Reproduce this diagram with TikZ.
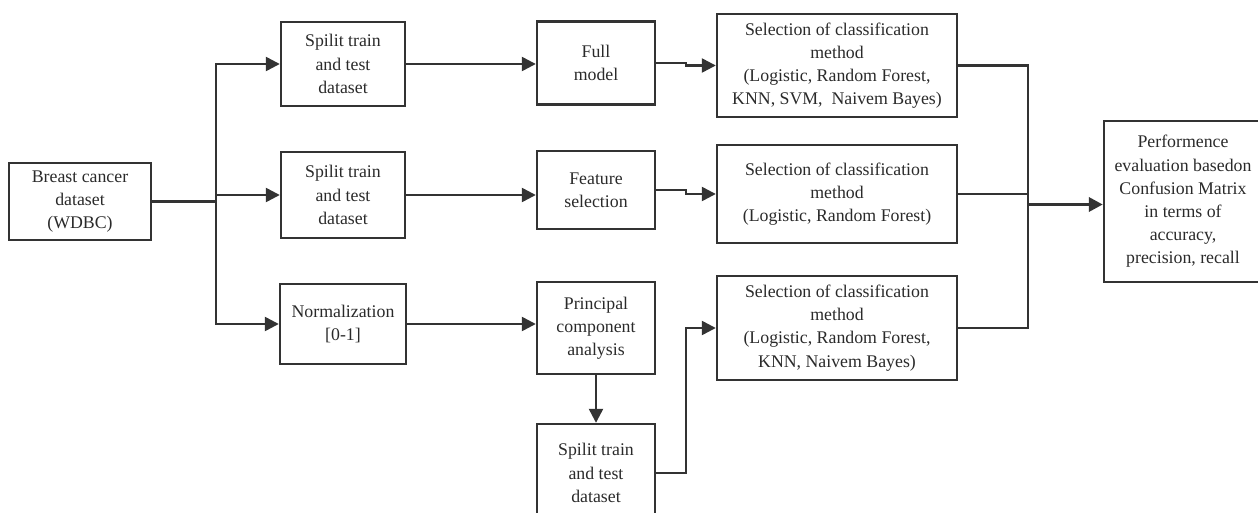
\documentclass[tikz,border=0pt]{standalone}
\usepackage{fontspec}
\setmainfont{Liberation Serif}
\usetikzlibrary{arrows.meta}

\definecolor{linegray}{HTML}{333333}
\definecolor{textgray}{HTML}{2A2A2A}

\tikzset{
    stepbox/.style={draw=linegray, line width=1.2pt, align=center, inner sep=0pt,
        text=textgray, font=\fontsize{8.9}{11.6}\selectfont},
    arr/.style={draw=linegray, line width=1.2pt, -{Triangle[length=7pt,width=7pt]}},
    link/.style={draw=linegray, line width=1.2pt}
}

\begin{document}
\begin{tikzpicture}[x=0.5pt, y=-0.5pt]
    \useasboundingbox (0,0) rectangle (1258,513);
    % boxes
    \node[stepbox, minimum width=71pt, minimum height=38.5pt] (data) at (80,201.5)
        {Breast cancer\\dataset\\(WDBC)};
    \node[stepbox, minimum width=62pt, minimum height=42pt] (split1) at (343,64)
        {Spilit train\\and test\\dataset};
    \node[stepbox, minimum width=62pt, minimum height=43pt] (split2) at (343,195)
        {Spilit train\\and test\\dataset};
    \node[stepbox, minimum width=63pt, minimum height=40pt] (norm) at (343,324)
        {Normalization\\{[0-1]}};
    \node[stepbox, minimum width=59pt, minimum height=41.5pt] (full) at (596,63)
        {Full\\model};
    \node[stepbox, minimum width=59pt, minimum height=39pt] (feat) at (596,190)
        {Feature\\selection};
    \node[stepbox, minimum width=59pt, minimum height=46pt] (pca) at (596,328)
        {Principal\\component\\analysis};
    \node[stepbox, minimum width=59pt, minimum height=49pt] (split3) at (596,473)
        {Spilit train\\and test\\dataset};
    \node[stepbox, minimum width=120pt, minimum height=51.5pt] (sel1) at (837,65.5)
        {Selection of classification\\method\\(Logistic, Random Forest,\\KNN, SVM,\ \ Naivem Bayes)};
    \node[stepbox, minimum width=120pt, minimum height=49pt] (sel2) at (837,194)
        {Selection of classification\\method\\(Logistic, Random Forest)};
    \node[stepbox, minimum width=120pt, minimum height=52pt] (sel3) at (837,328)
        {Selection of classification\\method\\(Logistic, Random Forest,\\KNN, Naivem Bayes)};
    \node[stepbox, minimum width=79pt, minimum height=80.5pt] (perf) at (1183,201.5)
        {Performence\\evaluation basedon\\Confusion Matrix\\in terms of\\accuracy,\\precision, recall};

    % junction columns
    \coordinate (fork) at (216,201.5);
    \coordinate (jog) at (686,0);
    \coordinate (merge) at (1028,0);

    % connectors
    \draw[link] (data.east) -- (fork);
    \draw[arr] (fork) |- (split1.west);
    \draw[arr] (fork) -- (fork |- split2.west) -- (split2.west);
    \draw[arr] (fork) |- (norm.west);
    \draw[arr] (split1.east) -- (split1.east -| full.west);
    \draw[arr] (split2.east) -- (split2.east -| feat.west);
    \draw[arr] (norm.east) -- (norm.east -| pca.west);
    \draw[arr] (pca.south) -- (split3.north);
    \draw[arr] (full.east) -- (full.east -| jog) |- (sel1.west);
    \draw[arr] (feat.east) -- (feat.east -| jog) |- (sel2.west);
    \draw[arr] (split3.east) -- (split3.east -| jog) |- (sel3.west);
    \draw[link] (sel1.east) -| (merge |- sel3.east) -- (sel3.east);
    \draw[link] (sel2.east) -- (sel2.east -| merge);
    \draw[arr, line width=1.7pt] ([yshift=-1.5pt]merge |- perf.west) -- ([yshift=-1.5pt]perf.west);
\end{tikzpicture}
\end{document}
